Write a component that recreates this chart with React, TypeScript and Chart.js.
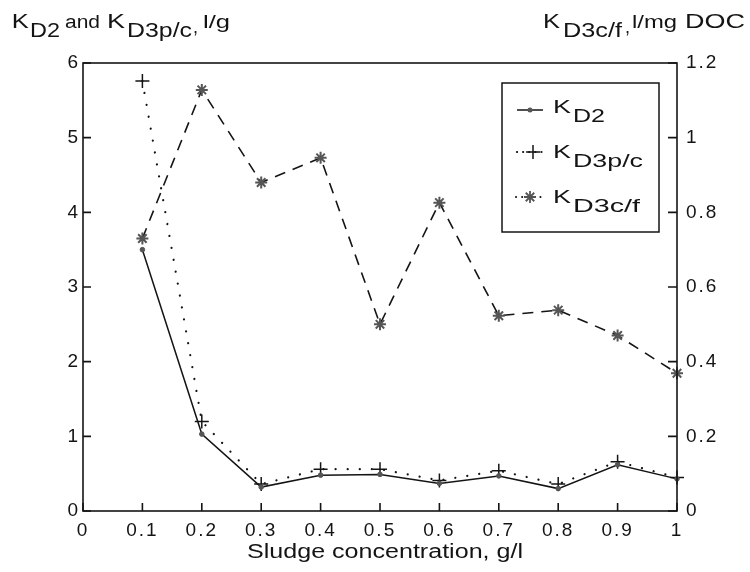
import React, { useEffect, useRef } from "react";
import { Chart, registerables } from "chart.js";

Chart.register(...registerables);

// ---- data ----
const sludgeConc = [0.1, 0.2, 0.3, 0.4, 0.5, 0.6, 0.7, 0.8, 0.9, 1.0];
const kD2 = [3.5, 1.03, 0.32, 0.48, 0.49, 0.37, 0.47, 0.3, 0.62, 0.43];
const kD3pc = [5.76, 1.2, 0.36, 0.56, 0.56, 0.41, 0.54, 0.36, 0.66, 0.45];
const kD3cf = [0.73, 1.128, 0.88, 0.946, 0.5, 0.826, 0.523, 0.538, 0.47, 0.369];

const xTickValues = [0, 0.1, 0.2, 0.3, 0.4, 0.5, 0.6, 0.7, 0.8, 0.9, 1];
const xTickLabels = ["0", "0.1", "0.2", "0.3", "0.4", "0.5", "0.6", "0.7", "0.8", "0.9", "1"];
const leftTickValues = [0, 1, 2, 3, 4, 5, 6];
const leftTickLabels = ["0", "1", "2", "3", "4", "5", "6"];
const rightTickValues = [0, 0.2, 0.4, 0.6, 0.8, 1, 1.2];
const rightTickLabels = ["0", "0.2", "0.4", "0.6", "0.8", "1", "1.2"];

const xTitle = "Sludge concentration, g/l";

const FONT = '"Liberation Sans", Arial, Helvetica, sans-serif';
const INK = "#141414";
const GRAY = "#555555";

function drawFit(ctx: CanvasRenderingContext2D, text: string, x: number, baseline: number, size: number, targetW?: number) {
  ctx.save();
  ctx.font = `${size}px ${FONT}`;
  ctx.textAlign = "left";
  ctx.textBaseline = "alphabetic";
  ctx.fillStyle = INK;
  const w = ctx.measureText(text).width;
  ctx.translate(x, baseline);
  if (targetW && w > 0) ctx.scale(targetW / w, 1);
  ctx.fillText(text, 0, 0);
  ctx.restore();
}

function drawStar(ctx: CanvasRenderingContext2D, cx: number, cy: number, r: number) {
  ctx.save();
  ctx.strokeStyle = GRAY;
  ctx.lineWidth = 1.8;
  ctx.setLineDash([]);
  ctx.beginPath();
  for (let k = 0; k < 4; k++) {
    const a = (k * Math.PI) / 4;
    ctx.moveTo(cx - Math.cos(a) * r, cy - Math.sin(a) * r);
    ctx.lineTo(cx + Math.cos(a) * r, cy + Math.sin(a) * r);
  }
  ctx.stroke();
  ctx.restore();
}

const decorPlugin = {
  id: "decor",
  beforeDraw(chart: any) {
    const ctx = chart.ctx as CanvasRenderingContext2D;
    ctx.fillStyle = "#ffffff";
    ctx.fillRect(0, 0, chart.width, chart.height);
    (ctx as any).letterSpacing = "2px";
  },
  afterDraw(chart: any) {
    const ctx = chart.ctx as CanvasRenderingContext2D;
    (ctx as any).letterSpacing = "0px";
    const { left, right, top, bottom } = chart.chartArea;
    const xs = chart.scales.x;
    const ys = chart.scales.y;
    const y2 = chart.scales.y2;

    ctx.save();
    ctx.strokeStyle = INK;
    ctx.lineWidth = 1.6;
    ctx.setLineDash([]);
    ctx.strokeRect(left, top, right - left, bottom - top);
    ctx.beginPath();
    for (const v of leftTickValues) {
      const p = ys.getPixelForValue(v);
      ctx.moveTo(left, p);
      ctx.lineTo(left + 8, p);
    }
    for (const v of rightTickValues) {
      const p = y2.getPixelForValue(v);
      ctx.moveTo(right, p);
      ctx.lineTo(right - 9, p);
    }
    for (const v of xTickValues) {
      const p = xs.getPixelForValue(v);
      ctx.moveTo(p, bottom);
      ctx.lineTo(p, bottom - 8);
    }
    ctx.stroke();
    ctx.restore();

    // axis titles
    drawFit(ctx, "K", 11.7, 28.3, 21, 17);
    drawFit(ctx, "D2", 30, 36.7, 21, 30);
    drawFit(ctx, "and", 65, 28.3, 18, 35);
    drawFit(ctx, "K", 107, 28.3, 21, 18);
    drawFit(ctx, "D3p/c", 127, 36.7, 21, 65);
    drawFit(ctx, ",", 193, 33, 18);
    drawFit(ctx, "l/g", 203, 28.3, 19, 27);

    drawFit(ctx, "K", 543, 28, 21, 17);
    drawFit(ctx, "D3c/f", 563, 36.7, 21, 59);
    drawFit(ctx, ",", 625, 33, 18);
    drawFit(ctx, "l/mg", 632, 28, 19, 45);
    drawFit(ctx, "DOC", 685, 28, 20, 60);

    drawFit(ctx, xTitle, 247, 558, 20, 276);

    // legend
    ctx.save();
    ctx.fillStyle = "#ffffff";
    ctx.fillRect(502, 83, 157, 149);
    ctx.strokeStyle = INK;
    ctx.lineWidth = 1.5;
    ctx.strokeRect(502, 83, 157, 149);
    // row 1
    ctx.beginPath();
    ctx.moveTo(517, 110);
    ctx.lineTo(543, 110);
    ctx.stroke();
    ctx.fillStyle = GRAY;
    ctx.beginPath();
    ctx.arc(530, 110, 2.5, 0, Math.PI * 2);
    ctx.fill();
    // row 2
    ctx.lineWidth = 2.2;
    ctx.lineCap = "round";
    ctx.setLineDash([0.1, 6]);
    ctx.beginPath();
    ctx.moveTo(517, 152);
    ctx.lineTo(545, 152);
    ctx.stroke();
    ctx.setLineDash([]);
    ctx.lineCap = "butt";
    ctx.lineWidth = 1.5;
    ctx.beginPath();
    ctx.moveTo(526, 152);
    ctx.lineTo(540, 152);
    ctx.moveTo(533, 145);
    ctx.lineTo(533, 159);
    ctx.stroke();
    // row 3
    ctx.lineWidth = 2;
    ctx.lineCap = "round";
    ctx.setLineDash([0.1, 6]);
    ctx.beginPath();
    ctx.moveTo(516, 197);
    ctx.lineTo(544, 197);
    ctx.stroke();
    ctx.setLineDash([]);
    ctx.restore();
    drawStar(ctx, 530, 197, 6);

    drawFit(ctx, "K", 553, 113, 18, 18);
    drawFit(ctx, "D2", 573, 122, 19, 32);
    drawFit(ctx, "K", 553, 158, 18, 18);
    drawFit(ctx, "D3p/c", 573, 167, 19, 70);
    drawFit(ctx, "K", 553, 203, 18, 18);
    drawFit(ctx, "D3c/f", 573, 212, 19, 67);
  },
};

export default function App() {
  const ref = useRef<HTMLCanvasElement | null>(null);

  useEffect(() => {
    if (!ref.current) return;
    const tickFont = { family: FONT, size: 19 };
    const chart = new Chart(ref.current, {
      type: "line",
      data: {
        datasets: [
          {
            label: "KD2",
            data: sludgeConc.map((x, i) => ({ x, y: kD2[i] })),
            yAxisID: "y",
            borderColor: INK,
            borderWidth: 1.5,
            pointStyle: "circle",
            pointRadius: 2.3,
            pointBackgroundColor: GRAY,
            pointBorderColor: GRAY,
            pointBorderWidth: 1,
            tension: 0,
            clip: false,
          },
          {
            label: "KD3p/c",
            data: sludgeConc.map((x, i) => ({ x, y: kD3pc[i] })),
            yAxisID: "y",
            borderColor: INK,
            borderWidth: 2.2,
            borderDash: [0.1, 12],
            borderCapStyle: "round",
            pointStyle: "cross",
            pointRadius: 7,
            pointBorderColor: INK,
            pointBorderWidth: 1.5,
            tension: 0,
            clip: false,
          },
          {
            label: "KD3c/f",
            data: sludgeConc.map((x, i) => ({ x, y: kD3cf[i] })),
            yAxisID: "y2",
            borderColor: INK,
            borderWidth: 1.6,
            borderDash: [11, 8],
            pointStyle: "star",
            pointRadius: 6,
            pointBorderColor: GRAY,
            pointBackgroundColor: GRAY,
            pointBorderWidth: 2,
            tension: 0,
            clip: false,
          },
        ],
      } as any,
      options: {
        responsive: false,
        animation: false,
        devicePixelRatio: 1,
        layout: { padding: { top: 63, left: 0, right: 0, bottom: 0 } },
        plugins: { legend: { display: false }, tooltip: { enabled: false }, title: { display: false } },
        scales: {
          x: {
            type: "linear",
            position: "bottom",
            min: 0,
            max: 1,
            afterBuildTicks: (s: any) => {
              s.ticks = xTickValues.map((v) => ({ value: v }));
            },
            afterFit: (s: any) => {
              s.height = 61;
            },
            grid: { display: false, drawTicks: false },
            border: { display: false },
            ticks: {
              font: tickFont,
              color: INK,
              padding: 8,
              maxRotation: 0,
              autoSkip: false,
              callback: (_v: any, i: number) => xTickLabels[i],
            },
          },
          y: {
            type: "linear",
            position: "left",
            min: 0,
            max: 6,
            afterBuildTicks: (s: any) => {
              s.ticks = leftTickValues.map((v) => ({ value: v }));
            },
            afterFit: (s: any) => {
              s.width = 83;
            },
            grid: { display: false, drawTicks: false },
            border: { display: false },
            ticks: {
              font: tickFont,
              color: INK,
              padding: 3,
              autoSkip: false,
              callback: (_v: any, i: number) => leftTickLabels[i],
            },
          },
          y2: {
            type: "linear",
            position: "right",
            min: 0,
            max: 1.2,
            afterBuildTicks: (s: any) => {
              s.ticks = rightTickValues.map((v) => ({ value: v }));
            },
            afterFit: (s: any) => {
              s.width = 73;
            },
            grid: { display: false, drawTicks: false },
            border: { display: false },
            ticks: {
              font: tickFont,
              color: INK,
              padding: 9,
              autoSkip: false,
              callback: (_v: any, i: number) => rightTickLabels[i],
            },
          },
        },
      } as any,
      plugins: [decorPlugin],
    });
    return () => chart.destroy();
  }, []);

  return (
    <div style={{ position: "fixed", left: 0, top: 0, width: 750, height: 572, background: "#fff" }}>
      <canvas ref={ref} width={750} height={572} style={{ display: "block", width: 750, height: 572 }} />
    </div>
  );
}
